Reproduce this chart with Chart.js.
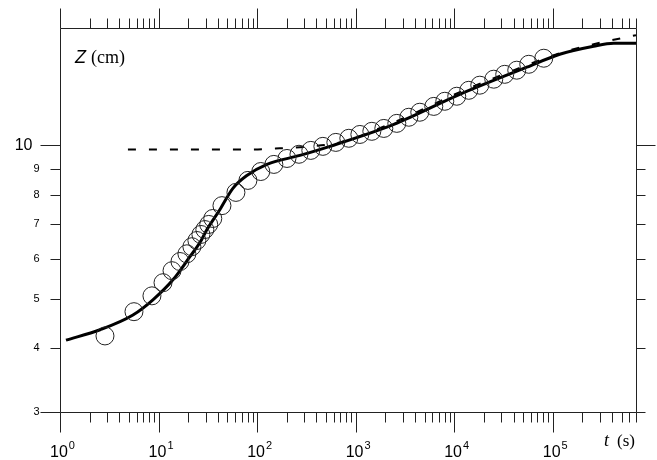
<!DOCTYPE html>
<html>
<head>
<meta charset="utf-8">
<script src="https://cdn.jsdelivr.net/npm/chart.js@4/dist/chart.umd.min.js"></script>
<style>
  html, body { margin: 0; padding: 0; background: #fff; }
  #chart { display: block; }
</style>
</head>
<body>
<canvas id="chart" width="657" height="460"></canvas>
<script>

/**
 *
 * Data
 *
 */

// measured points (circles)
const OBS_T = [2.86, 5.63, 8.57, 11.1, 13.7, 16.5, 19.4, 21.8, 24.5, 26.9, 29.5, 32.3, 35.5, 44, 61, 80.7, 109, 148, 201, 266, 351, 465, 630, 853, 1104, 1460, 1932, 2618, 3466, 4478, 6210, 8030, 10620, 14060, 18190, 25220, 32590, 43150, 57120, 81100];
const OBS_Z = [4.23, 4.72, 5.07, 5.38, 5.68, 5.92, 6.13, 6.33, 6.51, 6.69, 6.84, 7.00, 7.19, 7.62, 8.09, 8.54, 8.89, 9.18, 9.43, 9.61, 9.78, 9.96, 10.14, 10.33, 10.51, 10.66, 10.80, 11.05, 11.36, 11.62, 11.93, 12.21, 12.49, 12.83, 13.13, 13.49, 13.79, 14.05, 14.43, 14.83];

// solid curve
const FIT_T = [1.15, 2.55, 5.5, 8.77, 14.0, 20.8, 26.3, 31.0, 42.0, 56.8, 78.8, 126, 272, 548, 2440, 11400, 54500, 117800, 260500, 415700, 700000];
const FIT_Z = [4.15, 4.35, 4.65, 4.98, 5.45, 6.05, 6.45, 6.84, 7.49, 8.24, 8.73, 9.18, 9.56, 9.96, 11.0, 12.6, 14.24, 15.1, 15.66, 15.87, 15.87];

// dashed curve
const ASYM_T = [4.89, 84.5, 170, 343, 691, 2440, 11400, 54500, 117800, 260500, 700000];
const ASYM_Z = [9.82, 9.82, 9.87, 9.96, 10.14, 11.10, 12.72, 14.37, 15.17, 15.8, 16.46];

// axes
const X_MIN = 1;
const X_MAX = 7e5;
const Y_MIN = 3;
const Y_MAX = 17;
const X_MAJOR = [1, 10, 100, 1000, 10000, 100000];
const X_EXP = ['0', '1', '2', '3', '4', '5'];
const Y_TICKS = [3, 4, 5, 6, 7, 8, 9, 10];
const Y_LONG = [3, 10];

function pairs(xs, ys) {
  return xs.map((v, i) => ({x: v, y: ys[i]}));
}

//
//
// Frame, ticks and labels drawn from the chart's scales
const frameAxes = {
  id: 'frameAxes',
  afterDraw(chart) {
    const ctx = chart.ctx;
    const a = chart.chartArea;
    const sx = chart.scales.x;
    const sy = chart.scales.y;
    const L = Math.round(a.left) + 0.5;
    const R = Math.round(a.right) + 0.5;
    const T = Math.round(a.top) + 0.5;
    const B = Math.round(a.bottom) + 0.5;

    ctx.save();
    ctx.strokeStyle = '#222';
    ctx.lineWidth = 1;
    ctx.beginPath();
    ctx.rect(L, T, R - L, B - T);

    // x ticks, top and bottom, pointing outwards
    for (let d = 1; d <= X_MAX; d *= 10) {
      for (let m = 1; m <= 9; m++) {
        const v = d * m;
        if (v > X_MAX * 1.0001) break;
        const px = Math.round(sx.getPixelForValue(v)) + 0.5;
        const len = m === 1 ? 20 : 10;
        ctx.moveTo(px, B); ctx.lineTo(px, B + len);
        ctx.moveTo(px, T); ctx.lineTo(px, T - len);
      }
    }

    // y ticks, left and right, pointing outwards
    Y_TICKS.forEach(v => {
      const py = Math.round(sy.getPixelForValue(v)) + 0.5;
      const lenL = Y_LONG.includes(v) ? 20 : 10;
      const lenR = v === 10 ? 19 : 9;
      ctx.moveTo(L, py); ctx.lineTo(L - lenL, py);
      ctx.moveTo(R, py); ctx.lineTo(R + lenR, py);
    });
    ctx.stroke();

    // y labels
    ctx.fillStyle = '#000';
    ctx.textBaseline = 'middle';
    ctx.textAlign = 'right';
    Y_TICKS.forEach(v => {
      const py = sy.getPixelForValue(v);
      if (v === 10) {
        ctx.font = '16px "Liberation Sans", Arial, sans-serif';
        ctx.fillText('10', L - 28, py);
      } else {
        ctx.font = '11px "Liberation Sans", Arial, sans-serif';
        ctx.fillText(String(v), L - 21, py);
      }
    });

    // x labels 10^n
    ctx.textAlign = 'left';
    ctx.textBaseline = 'alphabetic';
    X_MAJOR.forEach((v, i) => {
      const px = sx.getPixelForValue(v);
      ctx.font = '16px "Liberation Sans", Arial, sans-serif';
      const wb = ctx.measureText('10').width;
      ctx.font = '11px "Liberation Sans", Arial, sans-serif';
      const ws = ctx.measureText(X_EXP[i]).width;
      const x0 = px + 2 - (wb + ws) / 2;
      ctx.font = '16px "Liberation Sans", Arial, sans-serif';
      ctx.fillText('10', x0, 457);
      ctx.font = '11px "Liberation Sans", Arial, sans-serif';
      ctx.fillText(X_EXP[i], x0 + wb + 1, 449);
    });

    // axis titles
    ctx.font = 'italic 18px "Liberation Serif", serif';
    ctx.fillText('t', 604, 446);
    ctx.font = '17px "Liberation Serif", serif';
    ctx.fillText('(s)', 617, 446);

    ctx.font = 'italic 18px "Liberation Sans", Arial, sans-serif';
    ctx.fillText('Z', 75, 63);
    ctx.font = '18px "Liberation Serif", serif';
    ctx.fillText('(cm)', 91, 63);

    ctx.restore();
  }
};

//
//
// Draw Chart
new Chart(document.getElementById('chart').getContext('2d'), {
  type: 'scatter',
  data: {
    datasets: [
      {
        label: 'fit',
        data: pairs(FIT_T, FIT_Z),
        showLine: true,
        borderColor: '#000',
        borderWidth: 3,
        pointRadius: 0,
        cubicInterpolationMode: 'monotone',
        order: 3
      },
      {
        label: 'asymptote',
        data: pairs(ASYM_T, ASYM_Z),
        showLine: true,
        borderColor: '#000',
        borderWidth: 2,
        borderDash: [8, 13],
        pointRadius: 0,
        cubicInterpolationMode: 'monotone',
        order: 2
      },
      {
        label: 'measured',
        data: pairs(OBS_T, OBS_Z),
        showLine: false,
        pointRadius: 9,
        pointBorderWidth: 1,
        pointBorderColor: '#222',
        pointBackgroundColor: 'rgba(0,0,0,0)',
        order: 1
      }
    ]
  },
  options: {
    responsive: false,
    animation: false,
    devicePixelRatio: 1,
    layout: { padding: { left: 60, top: 28, right: 21, bottom: 48 } },
    plugins: {
      legend: { display: false },
      tooltip: { enabled: false }
    },
    scales: {
      x: { type: 'logarithmic', min: X_MIN, max: X_MAX, display: false },
      y: { type: 'logarithmic', min: Y_MIN, max: Y_MAX, display: false }
    }
  },
  plugins: [frameAxes]
});

</script>
</body>
</html>
